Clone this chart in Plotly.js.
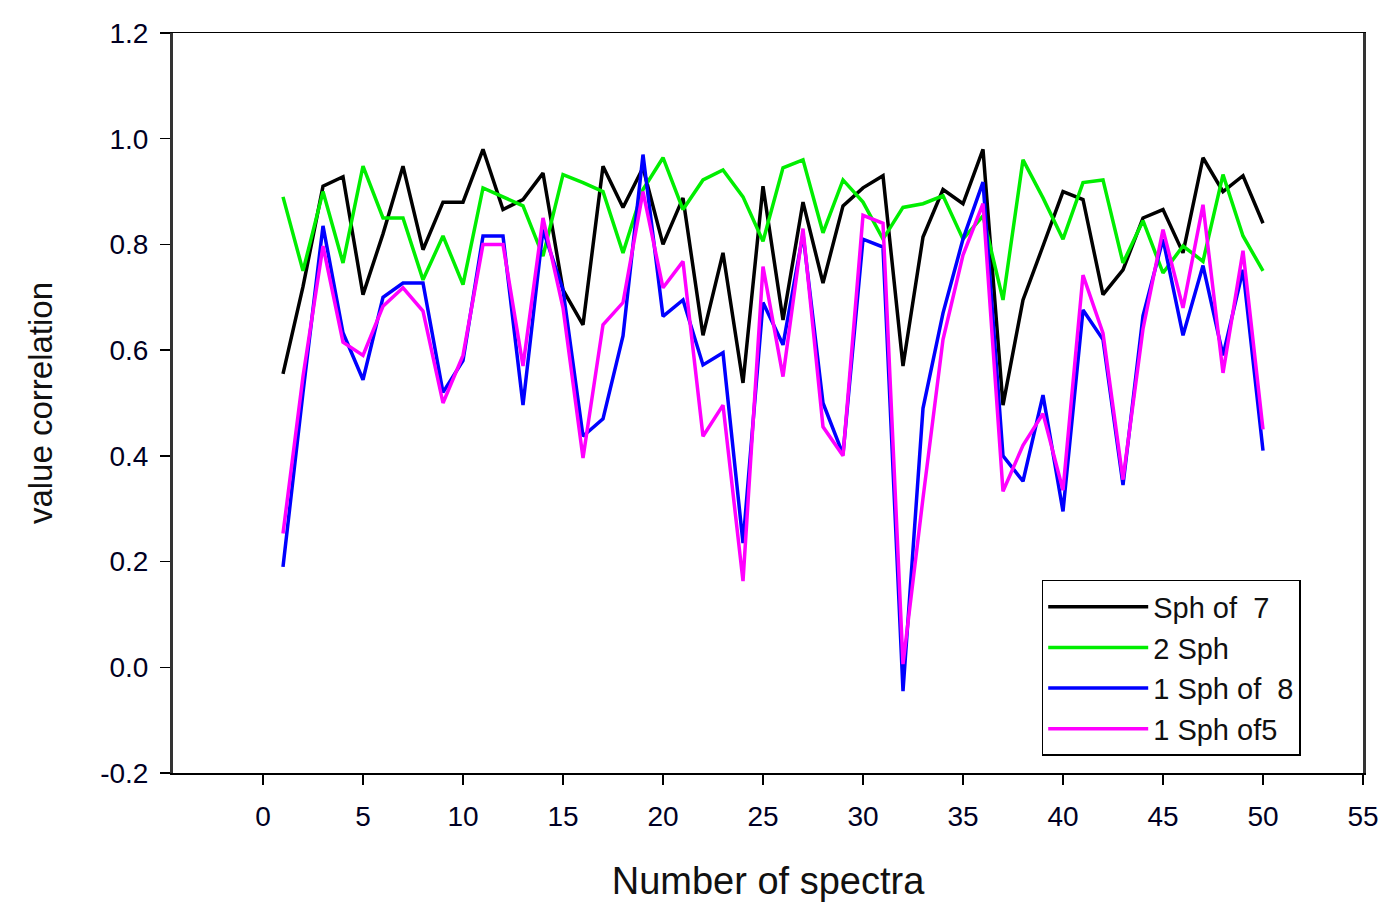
<!DOCTYPE html>
<html>
<head>
<meta charset="utf-8">
<script src="https://cdn.plot.ly/plotly-3.0.1.min.js"></script>
<style>html,body{margin:0;padding:0;background:#fff;}#chart{width:1398px;height:920px;}</style>
</head>
<body>
<div id="chart"></div>
<script>
var spectra = [];
for (var i = 1; i <= 50; i++) spectra.push(i);

var seriesNames = ["Sph of  7", "2 Sph", "1 Sph of  8", "1 Sph of5"];

var sphOf7 = [0.555,0.72,0.91,0.928,0.705,0.82,0.948,0.79,0.88,0.88,
              0.98,0.866,0.885,0.935,0.714,0.648,0.948,0.87,0.945,0.80,
              0.888,0.628,0.784,0.538,0.91,0.657,0.88,0.727,0.873,0.907,
              0.93,0.57,0.814,0.904,0.877,0.98,0.496,0.695,0.797,0.90,
              0.885,0.705,0.752,0.85,0.866,0.784,0.964,0.90,0.93,0.84];

var twoSph = [0.89,0.75,0.90,0.765,0.948,0.85,0.85,0.733,0.816,0.724,
              0.907,0.89,0.873,0.778,0.932,0.917,0.90,0.784,0.904,0.964,
              0.866,0.922,0.941,0.89,0.806,0.945,0.96,0.822,0.922,0.88,
              0.81,0.87,0.877,0.892,0.81,0.854,0.695,0.96,0.888,0.81,
              0.917,0.922,0.765,0.845,0.746,0.797,0.768,0.932,0.816,0.75];

var oneSphOf8 = [0.19,0.52,0.835,0.633,0.544,0.70,0.727,0.727,0.52,0.58,
                 0.816,0.816,0.496,0.828,0.714,0.437,0.47,0.627,0.97,0.664,
                 0.695,0.572,0.595,0.235,0.69,0.61,0.82,0.50,0.403,0.81,
                 0.795,-0.045,0.49,0.67,0.81,0.918,0.40,0.352,0.515,0.295,
                 0.676,0.62,0.345,0.665,0.81,0.628,0.76,0.59,0.752,0.41];

var oneSphOf5 = [0.253,0.55,0.797,0.615,0.59,0.683,0.718,0.674,0.50,0.59,
                 0.80,0.80,0.57,0.85,0.68,0.396,0.648,0.69,0.90,0.718,
                 0.768,0.437,0.496,0.163,0.758,0.55,0.83,0.455,0.40,0.855,
                 0.84,0.006,0.32,0.62,0.78,0.877,0.333,0.42,0.48,0.335,
                 0.742,0.632,0.355,0.64,0.828,0.68,0.875,0.557,0.788,0.45];

var xTicks = [0,5,10,15,20,25,30,35,40,45,50,55];
var yTicks = [-0.2,0.0,0.2,0.4,0.6,0.8,1.0,1.2];

var colors = ["#000000", "#00ee00", "#0000ff", "#ff00ff"];
var allSeries = [sphOf7, twoSph, oneSphOf8, oneSphOf5];

var traces = allSeries.map(function (s, k) {
  return {
    x: spectra, y: s, type: "scatter", mode: "lines",
    name: seriesNames[k],
    line: {color: colors[k], width: 3.5}
  };
});

var fam = "Arial, 'Liberation Sans', sans-serif";
var tickFont = {family: fam, size: 28, color: "#000022"};

var layout = {
  width: 1398, height: 920,
  margin: {l: 173, r: 35, t: 33, b: 147},
  paper_bgcolor: "#ffffff", plot_bgcolor: "#ffffff",
  showlegend: true,
  legend: {
    x: 0.73, y: 0.261, xanchor: "left", yanchor: "top",
    bgcolor: "#ffffff", bordercolor: "#000000", borderwidth: 1.5,
    font: {family: fam, size: 29, color: "#111111"},
    itemwidth: 100, tracegroupgap: 0
  },
  xaxis: {
    range: [-4.5, 55], tickvals: xTicks, ticktext: xTicks.map(String),
    ticks: "outside", ticklen: 10, tickwidth: 1.5, tickcolor: "#000",
    ticklabelstandoff: 8,
    showline: true, linecolor: "#000", linewidth: 1.5, mirror: true,
    showgrid: false, zeroline: false, tickfont: tickFont,
    title: {text: "Number of spectra", font: {family: fam, size: 38, color: "#111"}, standoff: 36}
  },
  yaxis: {
    range: [-0.2, 1.2], tickvals: yTicks, ticktext: yTicks.map(function (v) { return v.toFixed(1); }),
    ticks: "outside", ticklen: 10, tickwidth: 1.5, tickcolor: "#000",
    ticklabelstandoff: 6,
    showline: true, linecolor: "#333", linewidth: 3, mirror: true,
    showgrid: false, zeroline: false, tickfont: tickFont,
    title: {text: "value correlation", font: {family: "'Liberation Sans Narrow', 'Arial Narrow', " + fam, size: 33, color: "#111"}, standoff: 38}
  }
};

Plotly.newPlot("chart", traces, layout, {displayModeBar: false, staticPlot: true});
</script>
</body>
</html>
